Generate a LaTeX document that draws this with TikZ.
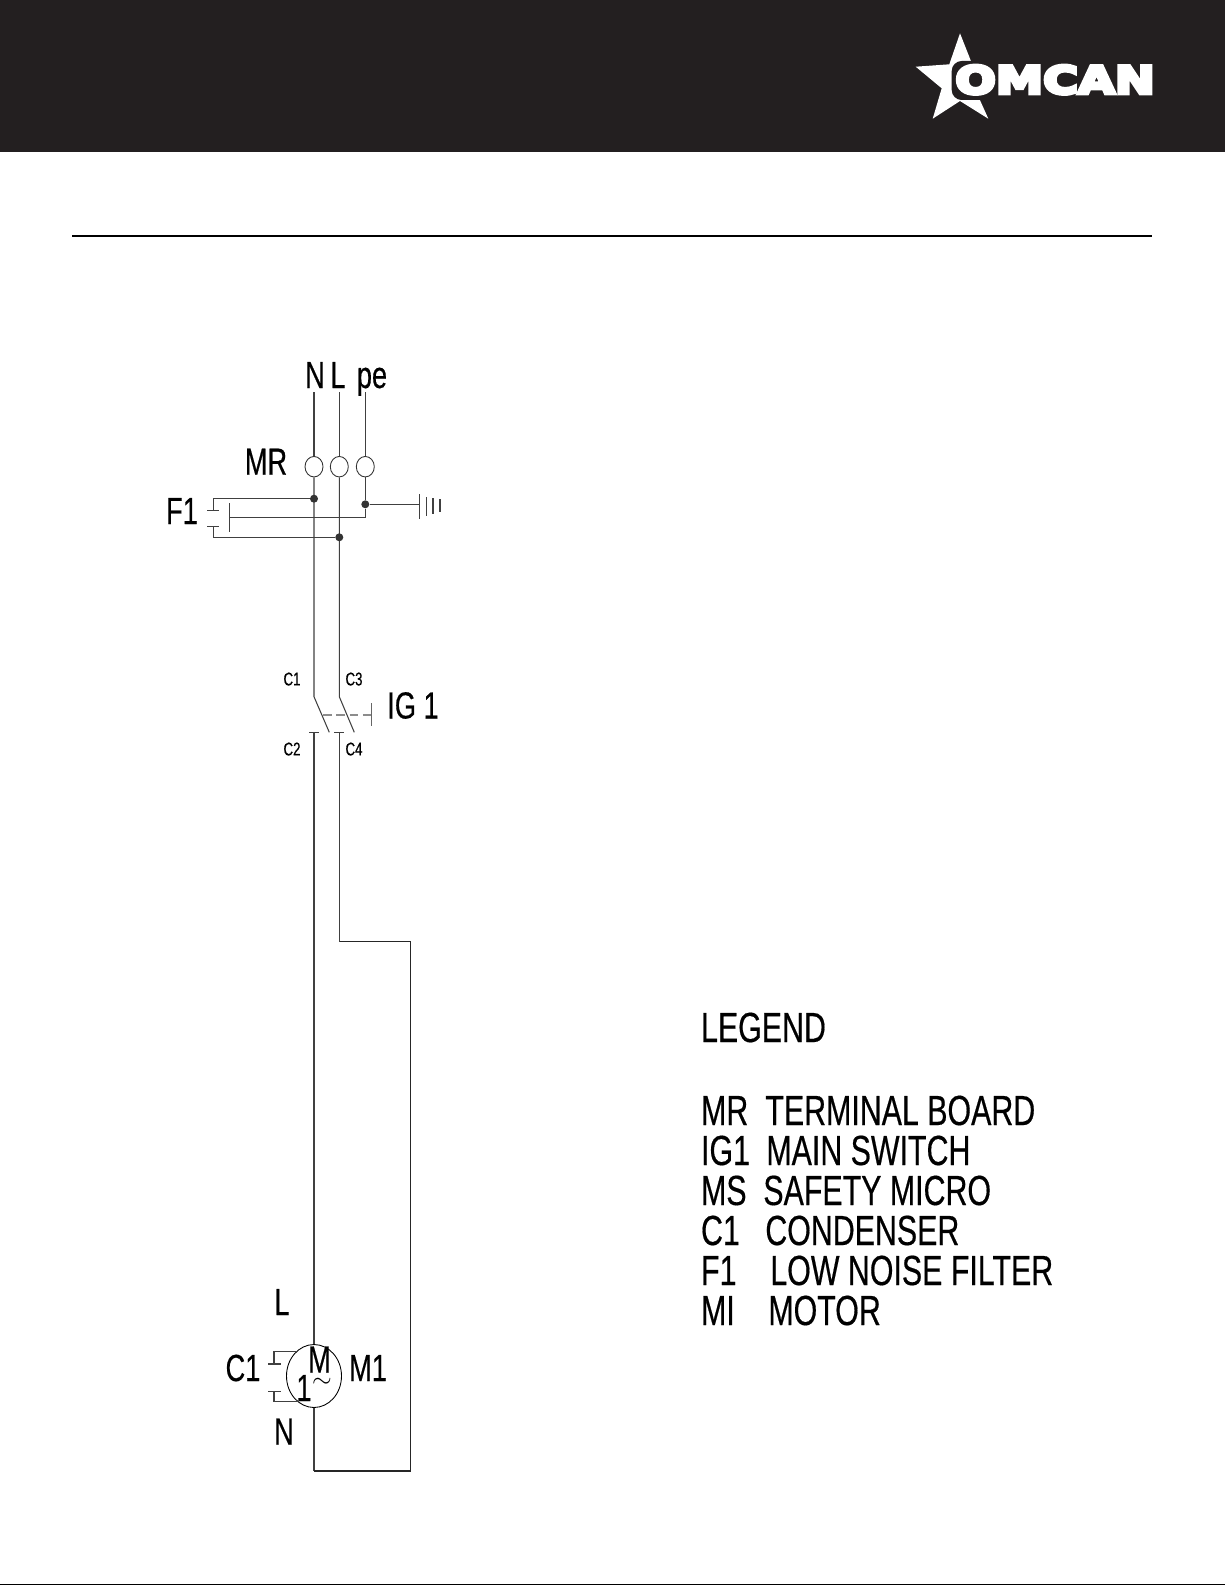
\documentclass[tikz,border=0pt]{standalone}
\usepackage{fontspec}
\usepackage{amssymb}
\usetikzlibrary{shapes.geometric}
\setmainfont{Liberation Sans}
\newfontfamily\labelfont[FakeStretch=0.72,FakeBold=0.4]{Liberation Sans}
\newfontfamily\logofont[FakeBold=10,FakeStretch=1.26]{DejaVu Sans Bold}
\definecolor{omcanblack}{HTML}{231F20}
\tikzset{
  wire/.style={line width=0.6pt, black!75},
  terminal/.style={ellipse, draw=black!80, line width=0.5pt, fill=white, inner sep=0pt,
    minimum width=0.36cm, minimum height=0.41cm},
  junction/.style={circle, fill=black!80, inner sep=0pt, minimum size=0.16cm},
  biglabel/.style={font=\labelfont\fontsize{21.5}{25}\selectfont, inner sep=0pt, anchor=base},
  smalllabel/.style={font=\labelfont\fontsize{10.5}{12}\selectfont, inner sep=0pt, anchor=base},
  legendtext/.style={font=\labelfont\fontsize{24}{28}\selectfont, inner sep=0pt, anchor=base west}
}

\begin{document}
\begin{tikzpicture}[x=0.02cm,y=-0.02cm]
  \useasboundingbox (0,0) rectangle (1225,1585);
  % Page header
  \fill[omcanblack] (0,0) rectangle (1225,152);
  \fill[black] (72,235) rectangle (1152,237);
  \fill[black] (0,1583.5) rectangle (1225,1585);
  % Logo
  \fill[white] (960,33.3) -- (971.7,63) -- (979,98) -- (988.3,118.7) -- (960,101)
    -- (932.7,118.7) -- (941.7,88.3) -- (915.7,66.7) -- (949.3,64.3) -- cycle;
  \fill[omcanblack, rounded corners=0.2cm] (951.7,61) rectangle (995,100);
  \node[font=\logofont\fontsize{21.5}{26}\selectfont, white, inner sep=0pt, anchor=base west]
    (logotext) at (955,93.5) {OMCAN};
  % Supply labels
  \node[biglabel] (labN) at (315,388) {N};
  \node[biglabel] (labL) at (338,388) {L};
  \node[biglabel] (labPe) at (372,388) {pe};
  \node[biglabel] (labMR) at (266,474.7) {MR};
  \node[biglabel] (labF) at (182,524) {F1};
  % Terminal board
  \node[terminal] (termN) at (314,466.7) {};
  \node[terminal] (termL) at (339.3,466.7) {};
  \node[terminal] (termPe) at (365.3,466.7) {};
  \coordinate (topN) at (314,392);
  \coordinate (topL) at (339.3,392);
  \coordinate (topPe) at (365.3,392);
  \draw[wire] (topN) -- (termN);
  \draw[wire] (topL) -- (termL);
  \draw[wire] (topPe) -- (termPe);
  % Switch
  \coordinate (swN) at (314,696.7);
  \coordinate (swL) at (339.3,696.7);
  \coordinate (bladeN) at (329.3,732.3);
  \coordinate (bladeL) at (354.3,732.3);
  \coordinate (contN) at (314,732.3);
  \coordinate (contL) at (339.3,732.3);
  \coordinate (linkA) at (323.3,715);
  \coordinate (linkB) at (371.7,715);
  \draw[wire] (termN) -- (swN) -- (bladeN);
  \draw[wire] (termL) -- (swL) -- (bladeL);
  \draw[wire] (309,732.3) -- (319,732.3);
  \draw[wire] (334,732.3) -- (344,732.3);
  \draw[wire, black!45, dashed, dash pattern=on 5pt off 2.5pt] (linkA) -- (linkB);
  \draw[wire, black!60] (371.7,703.3) -- (371.7,726);
  \node[smalllabel] (labCa) at (292,685.4) {C1};
  \node[smalllabel] (labCc) at (354,685.4) {C3};
  \node[smalllabel] (labCb) at (292,755.4) {C2};
  \node[smalllabel] (labCd) at (354,755.4) {C4};
  \node[biglabel] (labIG) at (413,718.5) {IG 1};
  % Motor
  \node[ellipse, draw=black, line width=0.5pt, fill=white, inner sep=0pt,
    minimum width=1.1cm, minimum height=1.26cm] (motor) at (314,1376) {};
  \coordinate (loopA) at (314,1471);
  \coordinate (loopB) at (410.3,1471);
  \coordinate (loopC) at (410.3,941.7);
  \coordinate (loopD) at (339.3,941.7);
  \draw[wire] (contN) -- (motor);
  \draw[wire] (motor) -- (loopA);
  \draw[line width=0.6pt, black!85] (loopA) -- (loopB) -- (loopC) -- (loopD);
  \draw[wire] (loopD) -- (contL);
  \node[biglabel] (labM) at (319.5,1372.5) {M};
  \node[biglabel] (labOne) at (304,1401) {1};
  \node[font=\fontsize{14}{16}\selectfont, inner sep=0pt] (labTilde) at (322,1383) {$\sim$};
  \node[biglabel] (labML) at (282,1315) {L};
  \node[biglabel] (labMN) at (284,1444.5) {N};
  \node[biglabel] (labCap) at (243,1381) {C1};
  \node[biglabel] (labMo) at (368,1381) {M1};
  % Motor condenser
  \coordinate (capA) at (274,1364);
  \coordinate (capB) at (274,1391.7);
  \draw[wire] (motor.126) -| (capA);
  \draw[wire] (motor.236) -| (capB);
  \draw[wire] (268,1364) -- (280.7,1364);
  \draw[wire] (268,1391.7) -- (280.7,1391.7);
  % Filter
  \node[junction] (dotN) at (314,498.7) {};
  \node[junction] (dotL) at (339.3,537.3) {};
  \node[junction] (dotPe) at (365.3,504.3) {};
  \coordinate (filtA) at (213.3,510.7);
  \coordinate (filtB) at (213.3,526.7);
  \coordinate (filtC) at (229.3,517.3);
  \draw[wire] (dotN) -- (213.3,498.7) -- (filtA);
  \draw[wire] (dotL) -- (213.3,537.3) -- (filtB);
  \draw[wire] (dotPe) -- (365.3,517.3) -- (filtC);
  \draw[wire] (207,510.7) -- (219,510.7);
  \draw[wire] (207,526.7) -- (219,526.7);
  \draw[wire] (229.3,503) -- (229.3,532);
  \draw[wire] (termPe) -- (dotPe);
  % Earth
  \coordinate (earth) at (419.3,504.3);
  \draw[wire] (dotPe) -- (earth);
  \draw[wire] (419.3,494) -- (419.3,519);
  \draw[wire] (426.7,497) -- (426.7,515.7);
  \draw[wire] (433,498) -- (433,514);
  \draw[wire] (440,499) -- (440,512);
  % Legend
  \node[legendtext] (legTitle) at (700.7,1042) {LEGEND};
  \node[legendtext] (codeMR) at (700.7,1125) {MR};
  \node[legendtext] (textMR) at (765,1125) {TERMINAL BOARD};
  \node[legendtext] (codeIG) at (700.7,1165) {IG1};
  \node[legendtext] (textIG) at (766,1165) {MAIN SWITCH};
  \node[legendtext] (codeMS) at (700.7,1205) {MS};
  \node[legendtext] (textMS) at (763,1205) {SAFETY MICRO};
  \node[legendtext] (codeC) at (700.7,1245) {C1};
  \node[legendtext] (textC) at (765,1245) {CONDENSER};
  \node[legendtext] (codeF) at (700.7,1285) {F1};
  \node[legendtext] (textF) at (770,1285) {LOW NOISE FILTER};
  \node[legendtext] (codeMI) at (700.7,1325) {MI};
  \node[legendtext] (textMI) at (768,1325) {MOTOR};
\end{tikzpicture}
\end{document}
